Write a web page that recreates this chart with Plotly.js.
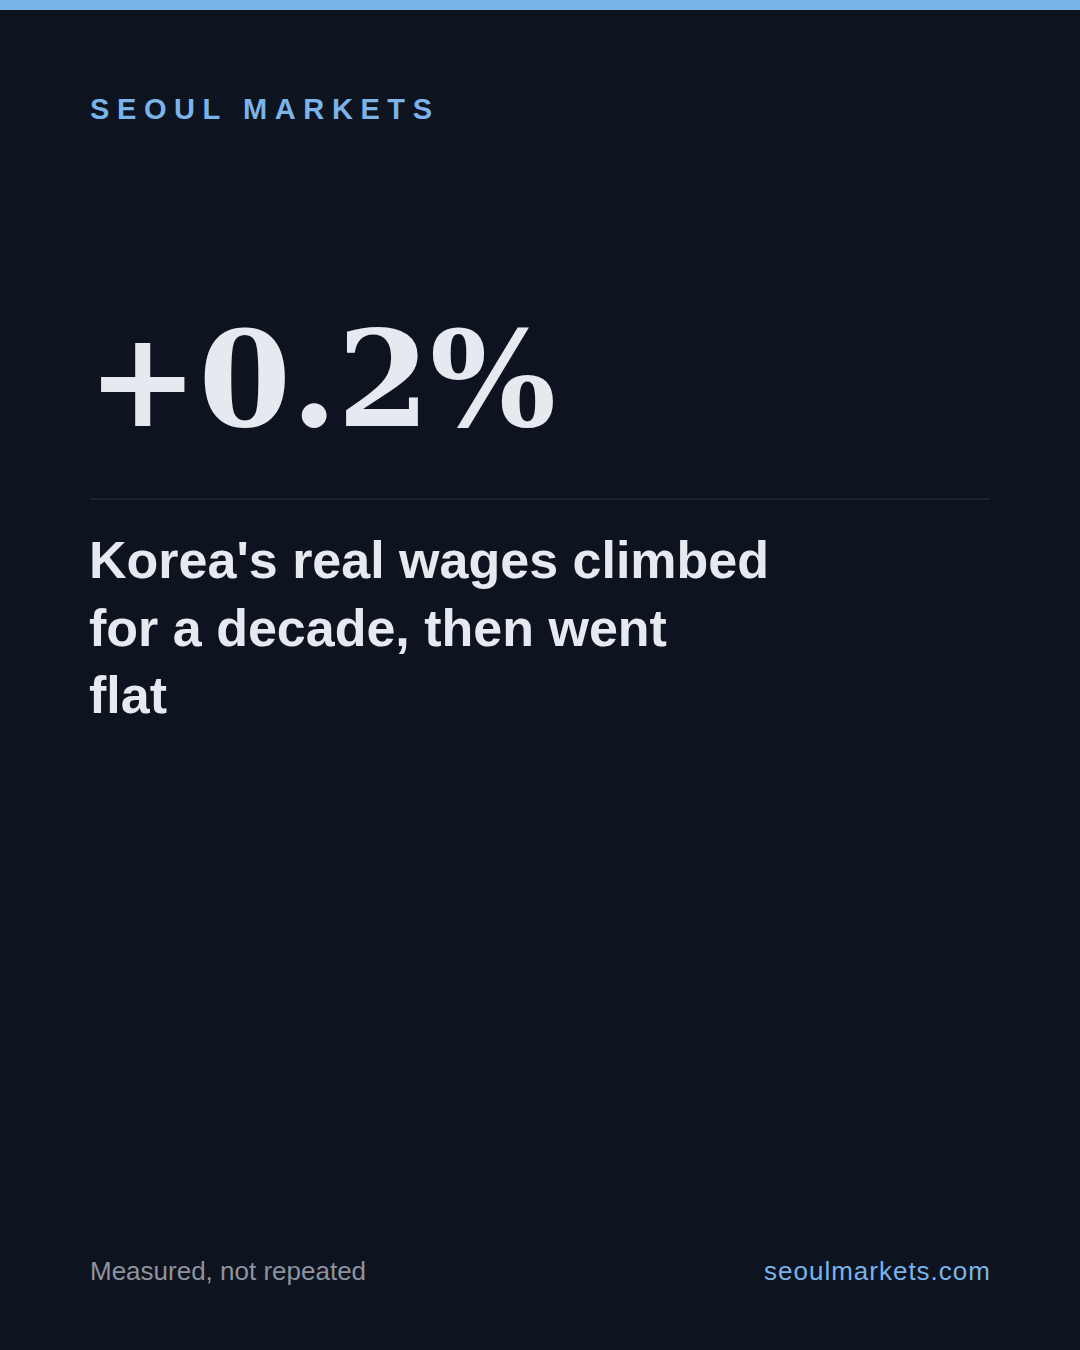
<!DOCTYPE html>
<html>
<head>
<meta charset="utf-8">
<script src="https://cdn.plot.ly/plotly-3.0.1.min.js"></script>
<style>
  html, body { margin: 0; padding: 0; background: #0d131f; }
  #card { width: 1080px; height: 1350px; }
</style>
</head>
<body>
<div id="card"></div>
<script>
// content of the card
const kicker = 'SEOUL MARKETS';
const changePct = [0.2];
const headlineLines = ["Korea's real wages climbed", 'for a decade, then went', 'flat'];
const footerLeft = 'Measured, not repeated';
const footerRight = 'seoulmarkets.com';

const bg = '#0d131f';
const accent = '#7ab4e8';
const ink = '#e6e9ef';
const muted = '#8d939e';

function fmtPct(v) {
    return (v >= 0 ? '+' : '') + v.toFixed(1) + '%';
}

let annotations = [
    {
        text: kicker,
        x: 88, y: 127, xanchor: 'left', yanchor: 'bottom', align: 'left',
        font: { family: 'Liberation Sans, Arial, sans-serif', size: 29, weight: 700, color: accent }
    },
    {
        text: fmtPct(changePct[0]),
        x: 85, y: 459, xanchor: 'left', yanchor: 'bottom', align: 'left',
        font: { family: 'DejaVu Serif, serif', size: 133, weight: 700, color: ink }
    },
    {
        text: headlineLines.join('<br>'),
        x: 87, y: 529, xanchor: 'left', yanchor: 'top', align: 'left',
        font: { family: 'Liberation Sans, Arial, sans-serif', size: 52, weight: 700, color: ink }
    },
    {
        text: footerLeft,
        x: 88, y: 1271, xanchor: 'left', yanchor: 'middle', align: 'left',
        font: { family: 'Liberation Sans, Arial, sans-serif', size: 26, color: muted }
    },
    {
        text: footerRight,
        x: 993, y: 1271, xanchor: 'right', yanchor: 'middle', align: 'right',
        font: { family: 'Liberation Sans, Arial, sans-serif', size: 26, color: accent }
    }
].map(a => Object.assign({ xref: 'x', yref: 'y', showarrow: false }, a));

let layout = {
    width: 1080,
    height: 1350,
    margin: { l: 0, r: 0, t: 0, b: 0 },
    paper_bgcolor: bg,
    plot_bgcolor: bg,
    showlegend: false,
    xaxis: { range: [0, 1080], visible: false, fixedrange: true },
    yaxis: { range: [1350, 0], visible: false, fixedrange: true },
    shapes: [
        { type: 'rect', xref: 'x', yref: 'y', x0: 0, x1: 1080, y0: 0, y1: 10,
          fillcolor: accent, line: { width: 0 } },
        { type: 'line', xref: 'x', yref: 'y', x0: 90, x1: 990, y0: 499, y1: 499,
          line: { color: '#1b2230', width: 2 } }
    ],
    annotations: annotations
};

Plotly.newPlot('card', [], layout, { staticPlot: true }).then(gd => {
    // tracked-out kicker and domain
    gd.querySelectorAll('.annotation-text').forEach(t => {
        if (t.textContent === kicker) t.style.letterSpacing = '7.6px';
        if (t.textContent === footerRight) t.style.letterSpacing = '1px';
    });
});
</script>
</body>
</html>
